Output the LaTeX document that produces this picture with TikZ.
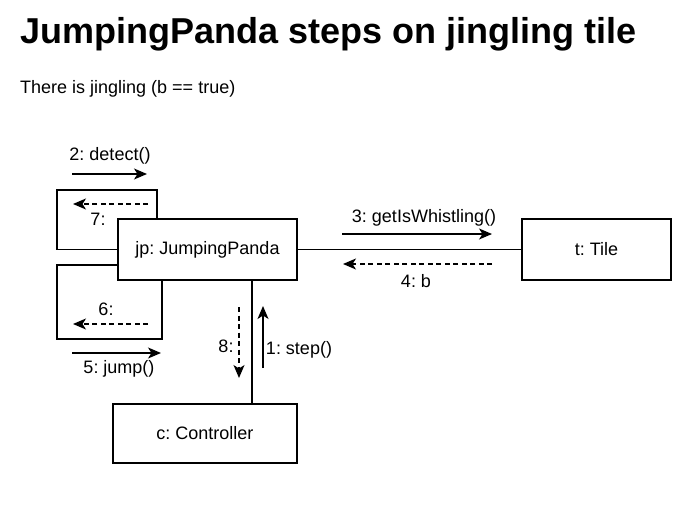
\documentclass[tikz,border=0pt]{standalone}
\usepackage{fontspec}
\setmainfont{Liberation Sans}
\usetikzlibrary{arrows.meta}
\frenchspacing

\begin{document}
\begin{tikzpicture}[x=1pt,y=-1pt,
    obj/.style={draw, line width=1.3pt, minimum height=61pt, inner sep=0pt, font=\fontsize{18}{21}\selectfont},
    link/.style={line width=1.3pt},
    lbl/.style={inner sep=0pt, font=\fontsize{18}{21}\selectfont},
    msg/.style={-{Stealth[length=13pt,width=11pt,inset=3.5pt]}, line width=1.3pt},
    ret/.style={msg, dash pattern=on 5pt off 3.5pt}]
  \useasboundingbox (0,0) rectangle (700,530);

  % Heading
  \node[anchor=base west, inner sep=0pt, font=\fontsize{36}{42}\selectfont\bfseries] (title) at (20,43) {JumpingPanda steps on jingling tile};
  \node[anchor=base west, inner sep=0pt, font=\fontsize{18}{21}\selectfont] (cond) at (20,93) {There is jingling (b == true)};

  % Objects
  \node[obj, minimum width=179pt] (jp) at (207.5,249.5) {jp: JumpingPanda};
  \node[obj, minimum width=149pt] (t) at (596.5,249.5) {t: Tile};
  \node[obj, minimum width=184pt, minimum height=59pt] (c) at (205,433.5) {c: Controller};
  \coordinate (cx) at (252,0);

  % Links
  \draw[link] (jp) -- (t);
  \draw[link] (jp.south -| cx) -- (c.north -| cx);
  \draw[link] ([xshift=-50.5pt]jp.north) |- (57,190) |- (jp.west);
  \draw[link] ([yshift=-15.5pt]jp.west) -| (57,339) -| ([xshift=-45.5pt]jp.south);

  % Messages
  \draw[msg] (72,174) -- (147,174);
  \node[lbl] (m2) at (110,156) {2: detect()};
  \draw[ret] (148,204) -- (73,204);
  \node[lbl] (m7) at (98,219) {7:};
  \draw[ret] (148,324) -- (73,324);
  \node[lbl] (m6) at (106,309) {6:};
  \draw[msg] (72,353) -- (161,353);
  \node[lbl] (m5) at (119,369) {5: jump()};
  \draw[ret] (239,307) -- (239,378);
  \node[lbl] (m8) at (226,346) {8:};
  \draw[msg] (263,368) -- (263,306);
  \node[lbl] (m1) at (299,350) {1: step()};
  \draw[msg] (342,234) -- (492,234);
  \node[lbl] (m3) at (424,218) {3: getIsWhistling()};
  \draw[ret] (492,264) -- (343,264);
  \node[lbl] (m4) at (416,281) {4: b};
\end{tikzpicture}
\end{document}
